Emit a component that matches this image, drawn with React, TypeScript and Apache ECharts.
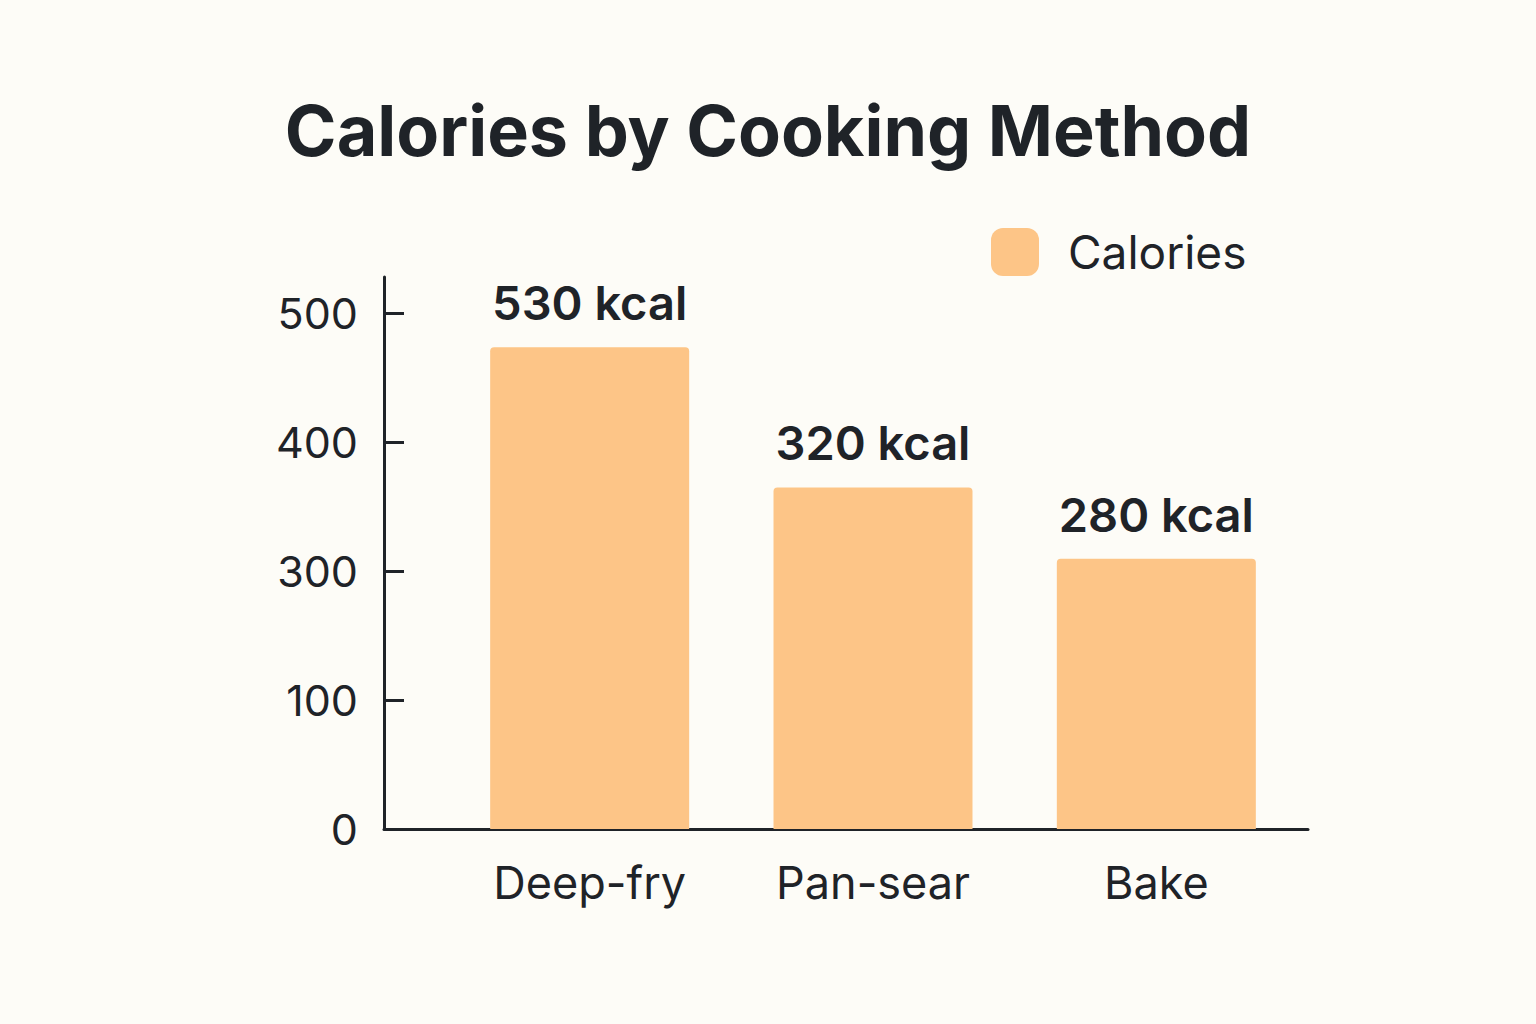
import React, { useEffect, useRef } from 'react';
import * as echarts from 'echarts';

const categories = ['Deep-fry', 'Pan-sear', 'Bake'];
// bar heights as read against the drawn axis (0 at the baseline, 500 at the top tick)
const barValues = [467, 331, 262];
// kcal figures printed above the bars
const calorieLabels = [530, 320, 280];
const yTickValues = [0, 125, 250, 375, 500];
const yTickLabels = ['0', '100', '300', '400', '500'];
const seriesName = 'Calories';

export default function App() {
  const ref = useRef<HTMLDivElement>(null);
  useEffect(() => {
    const chart = echarts.init(ref.current!, null, { renderer: 'svg' });
    const dark = '#1f2328';
    const font = 'Inter, "Noto Sans", sans-serif';
    chart.setOption({
      animation: false,
      backgroundColor: '#fdfcf7',
      textStyle: { fontFamily: font },
      title: {
        text: 'Calories by Cooking Method',
        left: 'center',
        top: 90,
        textStyle: { fontSize: 70, fontWeight: 700, color: dark, fontFamily: font },
      },
      legend: {
        left: 991,
        top: 228,
        padding: 0,
        itemWidth: 48,
        itemHeight: 48,
        icon: 'roundRect',
        textStyle: { fontSize: 46, color: dark, fontFamily: font, padding: [0, 0, 0, 24] },
        data: [seriesName],
      },
      grid: [
        { left: 384, right: 228, top: 277, bottom: 195 },
        { left: 448, right: 238, top: 277, bottom: 195 },
      ],
      xAxis: [
        {
          type: 'value', gridIndex: 0, min: 0, max: 1,
          axisLine: { show: true, lineStyle: { color: dark, width: 3 } },
          axisTick: { show: false }, axisLabel: { show: false }, splitLine: { show: false },
        },
        {
          type: 'category', gridIndex: 1, data: categories,
          axisLine: { show: false }, axisTick: { show: false },
          axisLabel: { fontSize: 45, color: dark, margin: 31, fontFamily: font },
        },
      ],
      yAxis: [
        {
          type: 'value', gridIndex: 0, min: 0, max: 535,
          axisLine: { show: true, lineStyle: { color: dark, width: 3 } },
          axisTick: { show: true, inside: true, length: 20, lineStyle: { color: dark, width: 3 }, customValues: yTickValues },
          axisLabel: {
            customValues: yTickValues,
            formatter: (v: number) => {
              const i = yTickValues.indexOf(Number(v));
              return i >= 0 ? yTickLabels[i] : '';
            },
            fontSize: 43, color: dark, margin: 26, fontFamily: font,
          },
          splitLine: { show: false },
        },
        { type: 'value', gridIndex: 1, min: 0, max: 535, show: false, splitLine: { show: false } },
      ],
      series: [
        {
          name: seriesName,
          type: 'bar',
          xAxisIndex: 1,
          yAxisIndex: 1,
          data: barValues,
          barWidth: 199,
          itemStyle: { color: '#fdc587', borderRadius: [4, 4, 0, 0] },
          label: {
            show: true,
            position: 'top',
            distance: 21,
            formatter: (p: any) => `${calorieLabels[p.dataIndex]} kcal`,
            fontSize: 47,
            fontWeight: 600,
            color: dark,
            fontFamily: font,
          },
        },
      ],
    });
    return () => chart.dispose();
  }, []);
  return <div ref={ref} style={{ position: 'fixed', left: 0, top: 0, width: 1536, height: 1024 }} />;
}
